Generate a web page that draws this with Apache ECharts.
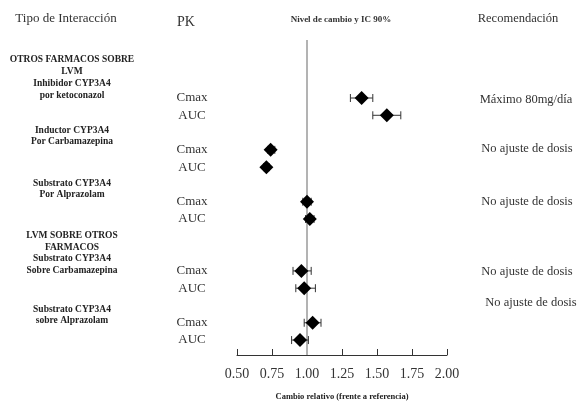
<!DOCTYPE html>
<html>
<head>
<meta charset="utf-8">
<script src="https://cdn.jsdelivr.net/npm/echarts@6/dist/echarts.min.js"></script>
<style>html,body{margin:0;padding:0;background:#fff}#c{width:579px;height:402px}</style>
</head>
<body>
<div id="c"></div>
<script>
// ---- data ----
const rows = ['Cmax','AUC','','Cmax','AUC','','Cmax','AUC','','','Cmax','AUC','','Cmax','AUC'];
const estimate = [1.39, 1.57, 0.74, 0.71, 1.00, 1.02, 0.96, 0.98, 1.04, 0.95];
const lower    = [1.31, 1.47, 0.72, 0.69, 0.97, 0.99, 0.90, 0.92, 0.98, 0.89];
const upper    = [1.47, 1.67, 0.77, 0.73, 1.03, 1.05, 1.03, 1.06, 1.10, 1.01];
const xTicks = [0.5, 0.75, 1.0, 1.25, 1.5, 1.75, 2.0];
const groupLabels = [
  'OTROS FARMACOS SOBRE\nLVM\nInhibidor CYP3A4\npor ketoconazol',
  'Inductor CYP3A4\nPor Carbamazepina',
  'Substrato CYP3A4\nPor Alprazolam',
  'LVM SOBRE OTROS\nFARMACOS\nSubstrato CYP3A4\nSobre Carbamazepina',
  'Substrato CYP3A4\nsobre Alprazolam'
];
const recommendations = ['Máximo 80mg/día','No ajuste de dosis','No ajuste de dosis','No ajuste de dosis','No ajuste de dosis'];
const headers = ['Tipo de Interacción','PK','Nivel de cambio y IC 90%','Recomendación'];
const xTitle = 'Cambio relativo (frente a referencia)';

// ---- layout (separate from data) ----
const serif = 'Liberation Serif, Times New Roman, serif';
const groupY = [77.5, 136, 189, 253, 315];
const recPos = [[526,100],[527,149],[527,202],[527,272],[531,303]];
const measureRows = rows.map((r,i)=>r?i:-1).filter(i=>i>=0);

const chart = echarts.init(document.getElementById('c'));
const gridL = 237, gridR = 579-447;
const band = 17.29;
const g0top = 98 - band/2;

const graphics = [];
graphics.push({type:'text', style:{text:headers[0], x:66, y:19, align:'center', verticalAlign:'middle', fontSize:13, fontFamily:serif, fill:'#333'}});
graphics.push({type:'text', style:{text:headers[1], x:186, y:22, align:'center', verticalAlign:'middle', fontSize:14, fontFamily:serif, fill:'#333'}});
graphics.push({type:'text', style:{text:headers[2], x:341, y:20, align:'center', verticalAlign:'middle', fontSize:9, fontWeight:'bold', fontFamily:serif, fill:'#333'}});
graphics.push({type:'text', style:{text:headers[3], x:518, y:19, align:'center', verticalAlign:'middle', fontSize:12.5, fontFamily:serif, fill:'#333'}});
groupLabels.forEach((t,i)=>{
  graphics.push({type:'text', style:{text:t, x:72, y:groupY[i], align:'center', verticalAlign:'middle', fontSize:9.5, lineHeight:11.8, fontWeight:'bold', fontFamily:serif, fill:'#222'}});
});
recommendations.forEach((t,i)=>{
  graphics.push({type:'text', style:{text:t, x:recPos[i][0], y:recPos[i][1], align:'center', verticalAlign:'middle', fontSize:12.5, fontFamily:serif, fill:'#333'}});
});

const option = {
  animation:false,
  graphic: graphics,
  grid:[
    {left:gridL, right:gridR, top:g0top, height:band*rows.length, outerBoundsMode:'none', containLabel:false},
    {left:gridL, right:gridR, top:40, bottom:47, outerBoundsMode:'none', containLabel:false}
  ],
  xAxis:[
    {gridIndex:0, type:'value', min:0.5, max:2.0, interval:0.25, show:false},
    {gridIndex:1, type:'value', min:0.5, max:2.0, interval:0.25,
     axisLine:{show:true, lineStyle:{color:'#333', width:1}},
     axisTick:{show:true, inside:true, length:6, lineStyle:{color:'#333'}},
     splitLine:{show:false},
     axisLabel:{margin:12, fontSize:14, fontFamily:serif, color:'#333', formatter:v=>v.toFixed(2)},
     name:xTitle, nameLocation:'middle', nameGap:37,
     nameTextStyle:{fontSize:8.5, fontWeight:'bold', fontFamily:serif, color:'#222'}}
  ],
  yAxis:[
    {gridIndex:0, type:'category', data:rows, inverse:true, boundaryGap:true,
     axisLine:{show:false}, axisTick:{show:false}, splitLine:{show:false},
     axisLabel:{margin:45, align:'center', fontSize:13, fontFamily:serif, color:'#333', interval:0}},
    {gridIndex:1, type:'value', min:0, max:1, show:false}
  ],
  series:[
    {type:'line', xAxisIndex:1, yAxisIndex:1, data:[[1,0],[1,1]], symbol:'none',
     lineStyle:{color:'#b3b3b3', width:2}, z:1, silent:true},
    {type:'custom', xAxisIndex:0, yAxisIndex:0, z:3,
     data: measureRows.map((r,i)=>[lower[i], upper[i], r]),
     renderItem:(params, api)=>{
       const a = api.coord([api.value(0), api.value(2)]);
       const b = api.coord([api.value(1), api.value(2)]);
       const h = 4;
       const st = {stroke:'#333', lineWidth:1};
       return {type:'group', children:[
         {type:'line', shape:{x1:a[0], y1:a[1], x2:b[0], y2:b[1]}, style:st},
         {type:'line', shape:{x1:a[0], y1:a[1]-h, x2:a[0], y2:a[1]+h}, style:st},
         {type:'line', shape:{x1:b[0], y1:b[1]-h, x2:b[0], y2:b[1]+h}, style:st}
       ]};
     }},
    {type:'scatter', xAxisIndex:0, yAxisIndex:0, z:4, symbol:'diamond', symbolSize:[14,14],
     itemStyle:{color:'#000', opacity:1},
     data: measureRows.map((r,i)=>[estimate[i], r])}
  ]
};
chart.setOption(option);
</script>
</body>
</html>
